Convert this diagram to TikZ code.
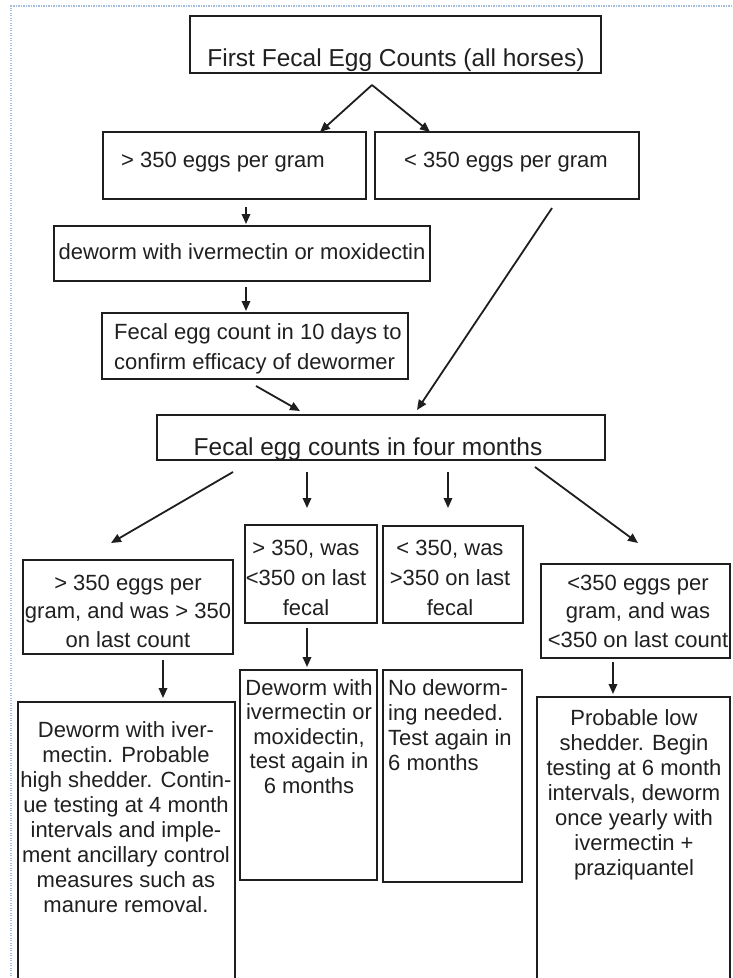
\documentclass[tikz,border=0pt]{standalone}
\usepackage{fontspec}
\setmainfont{Liberation Sans}
\usetikzlibrary{arrows.meta,fit}
\definecolor{edge}{HTML}{1E1E1E}
\definecolor{ink}{HTML}{202020}
\definecolor{dotblue}{RGB}{165,190,222}
\begin{document}
\begin{tikzpicture}[x=1pt,y=-1pt,
  box/.style={draw=edge,line width=1.8pt,inner sep=0pt,fit={#1}},
  txt/.style={font=\fontsize{22}{#1}\selectfont,text=ink,inner sep=0pt,anchor=base,align=center},
  txt/.default=25,
  txtbig/.style={font=\fontsize{24.5}{28}\selectfont,text=ink,inner sep=0pt,anchor=base,align=center},
  arr/.style={draw=edge,line width=1.8pt,-{Triangle[length=10pt,width=8.5pt]}}]
\useasboundingbox (0,0) rectangle (732,978);
\fill[white] (0,0) rectangle (732,978);
\clip (0,0) rectangle (732,978);
% page border
\draw[dotblue,line width=2.2pt,dash pattern=on 1.2pt off 1.3pt] (732,6) -- (11,6) -- (11,978);
% boxes
\node[box={(190,16) (601,73)}] (top) {};
\node[box={(103,132) (366,199)}] (A) {};
\node[box={(375,132) (639,199)}] (B) {};
\node[box={(54,226) (430,281)}] (dew) {};
\node[box={(102,313) (408,379)}] (ten) {};
\node[box={(157,415) (605,460)}] (four) {};
\node[box={(23,560) (233,654)}] (C1) {};
\node[box={(245,525) (377,623)}] (C2) {};
\node[box={(383,526) (523,623)}] (C3) {};
\node[box={(541,564) (730,658)}] (C4) {};
\node[box={(18,702) (235,1000)}] (D1) {};
\node[box={(240,670) (377,880)}] (D2) {};
\node[box={(383,670) (522,882)}] (D3) {};
\node[box={(537,697) (730,1000)}] (D4) {};
% texts (base anchor = baseline of the last line)
\node[txtbig] (topt) at (396,66) {First Fecal Egg Counts (all horses)};
\node[txt] (At) at (223,167) {> 350 eggs per gram};
\node[txt] (Bt) at (506,167) {< 350 eggs per gram};
\node[txt] (dewt) at (242,259) {deworm with ivermectin or moxidectin};
\node[txt=30,align=left,anchor=base west] (tent) at (114,369) {Fecal egg count in 10 days to\\confirm efficacy of dewormer};
\node[txtbig] (fourt) at (368,455) {Fecal egg counts in four months};
\node[txt=28.5] (C1t) at (128,647) {> 350 eggs per\\gram, and was > 350\\on last count};
\node[txt=30] (C2t) at (306,615) {> 350, was\\<350 on last\\fecal};
\node[txt=30] (C3t) at (450,615) {< 350, was\\>350 on last\\fecal};
\node[txt=28.5] (C4t) at (638,647) {<350 eggs per\\gram, and was\\<350 on last count};
\node[txt] (D1t) at (126,912) {Deworm with iver-\\mectin. Probable\\high shedder. Contin-\\ue testing at 4 month\\intervals and imple-\\ment ancillary control\\measures such as\\manure removal.};
\node[txt=24.5] (D2t) at (309,793) {Deworm with\\ivermectin or\\moxidectin,\\test again in\\6 months};
\node[txt,align=left,anchor=base west] (D3t) at (388,770) {No deworm-\\ing needed.\\Test again in\\6 months};
\node[txt] (D4t) at (634,875) {Probable low\\shedder. Begin\\testing at 6 month\\intervals, deworm\\once yearly with\\ivermectin +\\praziquantel};
% arrow end points
\coordinate (s1) at (372,85);
\coordinate (e1) at (320,132);
\coordinate (e2) at (430,132);
\coordinate (s3) at (246,207);
\coordinate (e3) at (246,224);
\coordinate (s4) at (246,287);
\coordinate (e4) at (246,311);
\coordinate (s5) at (256,386);
\coordinate (e5) at (300,411);
\coordinate (s6) at (552,208);
\coordinate (e6) at (417,410);
\coordinate (s7) at (233,472);
\coordinate (e7) at (111,543);
\coordinate (s8) at (307,472);
\coordinate (e8) at (307,508);
\coordinate (s9) at (448,472);
\coordinate (e9) at (448,508);
\coordinate (s10) at (535,467);
\coordinate (e10) at (638,543);
\coordinate (s11) at (163,660);
\coordinate (e11) at (163,698);
\coordinate (s12) at (307,628);
\coordinate (e12) at (307,667);
\coordinate (s13) at (613,662);
\coordinate (e13) at (613,694);
% arrows
\draw[arr] (s1) -- (e1);
\draw[arr] (s1) -- (e2);
\draw[arr] (s3) -- (e3);
\draw[arr] (s4) -- (e4);
\draw[arr] (s5) -- (e5);
\draw[arr] (s6) -- (e6);
\draw[arr] (s7) -- (e7);
\draw[arr] (s8) -- (e8);
\draw[arr] (s9) -- (e9);
\draw[arr] (s10) -- (e10);
\draw[arr] (s11) -- (e11);
\draw[arr] (s12) -- (e12);
\draw[arr] (s13) -- (e13);
\end{tikzpicture}
\end{document}
